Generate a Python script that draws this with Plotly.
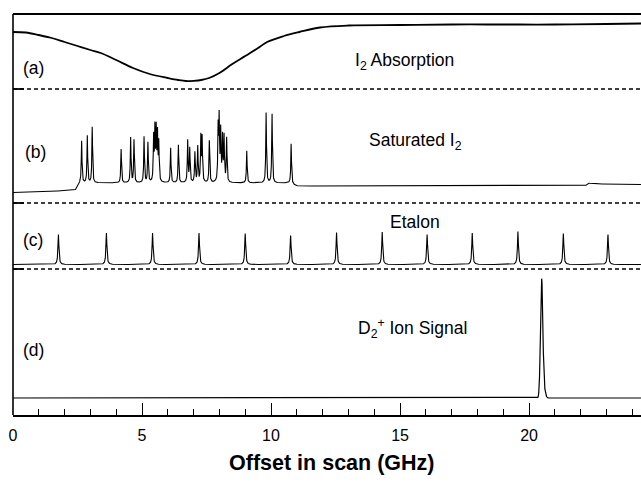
import numpy as np
import plotly.graph_objects as go

# ---------------- data ----------------
# (a) I2 absorption trace: offset (GHz) vs signal (arb.)
abs_x = [0.0, 0.5, 1.0, 1.5, 2.0, 2.5, 3.0, 3.4, 4.0, 4.65, 5.3, 6.0, 6.4, 6.7, 7.0, 7.3,
         7.6, 8.0, 8.5, 9.0, 9.5, 9.85, 10.5, 11.1, 11.9, 13.0, 15.0, 17.0, 19.0, 21.0, 23.0, 24.4]
abs_y = [57, 56.5, 54, 51, 47, 43, 39, 36, 29, 21, 15, 11, 9, 8, 8.2, 9,
         11, 16, 25, 33, 41, 47, 53, 57, 61.5, 63.5, 64, 64.5, 64.5, 64.5, 65, 65.5]

# (b) saturated I2: baseline points and line centres / amplitudes
sat_base_x = [0.0, 2.4, 2.6, 10.7, 11.0, 22.2, 22.3, 22.6, 24.4]
sat_base_y = [10.5, 12.5, 20, 20, 17, 17.5, 20, 19, 18.5]
sat_pos = [2.66, 2.88, 3.07, 4.19, 4.56, 4.69, 5.08, 5.23, 5.45, 5.50, 5.55, 5.60, 5.65,
           6.11, 6.41, 6.77, 6.85, 7.05, 7.16, 7.28, 7.33, 7.61, 7.95, 7.99, 8.05, 8.12,
           8.18, 8.28, 9.06, 9.81, 10.04, 10.78]
sat_amp = [42, 47, 56, 34, 45, 43, 46, 40, 44, 51, 50, 46, 38,
           35, 38, 42, 34, 30, 36, 45, 44, 42, 53, 61, 50, 44,
           45, 44, 32, 70, 69, 40]

# (c) etalon fringes
et_pos = [1.76, 3.62, 5.41, 7.21, 9.00, 10.76, 12.54, 14.31, 16.05, 17.80, 19.57, 21.33, 23.06]
et_amp = [30, 31.5, 31.5, 31.5, 31, 29, 32, 32.5, 30, 31.5, 33, 31, 30]
et_base = 4.5

# (d) D2+ ion signal
ion_pos = [20.49, 20.60]
ion_amp = [119, 7]
ion_base = 17

# tick labels
tick_vals = [0, 5, 10, 15, 20]
tick_text = ["0", "5", "10", "15", "20"]

# ---------------- build traces ----------------
X_MAX = 24.34
grid = np.arange(0, X_MAX + 0.002, 0.003)

def lorentz_sum(x, pos, amp, g):
    y = np.zeros_like(x)
    for p, a in zip(pos, amp):
        y += a * g**2 / ((x - p)**2 + g**2)
    return y

def gauss_sum(x, pos, amp, s):
    y = np.zeros_like(x)
    for p, a in zip(pos, amp):
        y += a * np.exp(-0.5 * ((x - p) / s)**2)
    return y

sat_y = np.interp(grid, sat_base_x, sat_base_y) + lorentz_sum(grid, sat_pos, sat_amp, 0.016)
et_y = et_base + lorentz_sum(grid, et_pos, et_amp, 0.022)
ion_y = ion_base + gauss_sum(grid, ion_pos, ion_amp, 0.045)

# ---------------- layout geometry (pixels) ----------------
W, H = 641, 489
L, T, B = 13, 14, 74
AX_BOTTOM = H - B          # 415
PLOT_H = AX_BOTTOM - T     # 401
def py(ypx):
    return (AX_BOTTOM - ypx) / PLOT_H
def pxf(xpx):
    return (xpx - L) / (W - L)

sep_ab, sep_bc, sep_cd = 89, 203, 269

fig = go.Figure()
fig.add_trace(go.Scatter(x=abs_x, y=abs_y, mode="lines", line=dict(color="black", width=1.8, shape="spline"),
                         xaxis="x", yaxis="y4", hoverinfo="skip"))
fig.add_trace(go.Scatter(x=grid, y=sat_y, mode="lines", line=dict(color="black", width=1.1),
                         xaxis="x", yaxis="y3", hoverinfo="skip"))
fig.add_trace(go.Scatter(x=grid, y=et_y, mode="lines", line=dict(color="black", width=1.1),
                         xaxis="x", yaxis="y2", hoverinfo="skip"))
fig.add_trace(go.Scatter(x=grid, y=ion_y, mode="lines", line=dict(color="black", width=1.2),
                         xaxis="x", yaxis="y", hoverinfo="skip"))

hidden = dict(visible=False, fixedrange=True)
FONT = "Liberation Sans, Arial, Helvetica, sans-serif"

fig.update_layout(
    width=W, height=H,
    margin=dict(l=L, r=0, t=T, b=B, pad=0),
    paper_bgcolor="white", plot_bgcolor="white",
    showlegend=False,
    font=dict(family=FONT, color="black", size=16),
    xaxis=dict(range=[0, X_MAX], anchor="y", showgrid=False, zeroline=False,
               showline=True, linecolor="black", linewidth=1.5,
               ticks="inside", ticklen=12, tickwidth=1.3, tickcolor="black",
               tickvals=tick_vals, ticktext=tick_text,
               tickfont=dict(family=FONT, size=16, color="black"),
               ticklabelstandoff=5,
               minor=dict(dtick=1, tick0=0, ticks="inside", ticklen=6, tickwidth=1.1,
                          tickcolor="black", showgrid=False)),
    yaxis=dict(domain=[0, py(sep_cd)], range=[0, AX_BOTTOM - sep_cd], **hidden),
    yaxis2=dict(domain=[py(sep_cd), py(sep_bc)], range=[0, sep_cd - sep_bc], **hidden),
    yaxis3=dict(domain=[py(sep_bc), py(sep_ab)], range=[0, sep_bc - sep_ab], **hidden),
    yaxis4=dict(domain=[py(sep_ab), 1], range=[0, sep_ab - T], **hidden),
)

shapes = []
# frame: left and top solid lines
shapes.append(dict(type="line", xref="paper", yref="paper", x0=0, x1=0, y0=0, y1=1,
                   line=dict(color="black", width=1.6)))
shapes.append(dict(type="line", xref="paper", yref="paper", x0=0, x1=1, y0=1, y1=1,
                   line=dict(color="black", width=2)))
for s in (sep_ab, sep_bc, sep_cd):
    shapes.append(dict(type="line", xref="paper", yref="paper", x0=0, x1=1, y0=py(s), y1=py(s),
                       line=dict(color="black", width=1.5, dash="4px,3px")))
    shapes.append(dict(type="line", xref="paper", yref="paper", x0=0, x1=pxf(24), y0=py(s), y1=py(s),
                       line=dict(color="black", width=1.8)))
fig.update_layout(shapes=shapes)

ann = []
def label(text, xpx, ypx, xanchor="left", size=17.5, bold=False):
    ann.append(dict(text=f"<b>{text}</b>" if bold else text, xref="paper", yref="paper",
                    x=pxf(xpx), y=py(ypx), xanchor=xanchor, yanchor="middle",
                    showarrow=False, font=dict(family=FONT, size=size, color="black")))

label("(a)", 21, 68)
label("I<sub>2</sub> Absorption", 353, 61)
label("(b)", 23, 152)
label("Saturated I<sub>2</sub>", 367, 141)
label("(c)", 21, 240)
label("Etalon", 388, 222)
label("(d)", 21, 350)
label("D<sub>2</sub><sup>+</sup> Ion Signal", 469, 328, xanchor="right")
label("Offset in scan (GHz)", 331, 463, xanchor="center", size=21.5, bold=True)
fig.update_layout(annotations=ann)

fig.write_html("out.html")
